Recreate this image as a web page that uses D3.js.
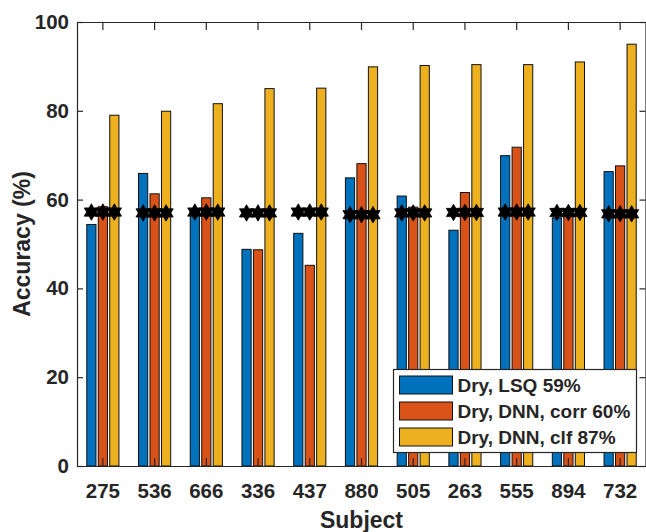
<!DOCTYPE html>
<html><head><meta charset="utf-8">
<script src="https://cdn.jsdelivr.net/npm/d3@7"></script>
<style>body{margin:0;background:#fff}svg{display:block}text{font-family:"Liberation Sans",Arial,Helvetica,sans-serif;font-weight:bold;fill:#262626}</style>
</head><body>
<svg id="c" width="646" height="532"></svg>
<script>
const subjects = ["275","536","666","336","437","880","505","263","555","894","732"];
const seriesNames = ["Dry, LSQ 59%","Dry, DNN, corr 60%","Dry, DNN, clf 87%"];
const lsq  = [54.4,65.9,57.4,48.8,52.4,64.9,60.8,53.1,69.9,55.9,66.3];
const corr = [58.4,61.3,60.4,48.7,45.2,68.1,58.3,61.6,71.8,57.8,67.6];
const clf  = [79.0,79.9,81.6,85.0,85.1,89.9,90.2,90.4,90.4,91.0,95.0];
const chance = [57.2,57.0,57.2,57.0,57.2,56.6,57.0,57.1,57.2,57.1,56.8];
const yTicks = [0,20,40,60,80,100];
const colors = ["#0072BD","#D95319","#EDB120"];

const svg = d3.select("#c");
const L = 77, R = 646, T = 22, B = 466;
const x = d3.scaleBand().domain(subjects).range([L, R]).padding(0);
const bw = x.bandwidth();
const xs = d3.scalePoint().domain([0,1,2]).range([-0.222*bw, 0.222*bw]);
const barW = 0.178*bw;
const y = d3.scaleLinear().domain([0,100]).range([B, T]);
const values = [lsq, corr, clf];

// bars
const g = svg.append("g");
values.forEach((vals, si) => {
  g.selectAll(null).data(vals).enter().append("rect")
    .attr("x", (d,i) => x(subjects[i]) + bw/2 + xs(si) - barW/2)
    .attr("y", d => y(d))
    .attr("width", barW)
    .attr("height", d => y(0) - y(d))
    .attr("fill", colors[si])
    .attr("stroke", "#111").attr("stroke-width", 1);
});

// axes
const axisColor = "#262626";
const yl = svg.append("g").attr("transform", `translate(${L},0)`)
  .call(d3.axisLeft(y).tickValues(yTicks).tickSizeInner(-6).tickSizeOuter(0).tickPadding(8));
const yr = svg.append("g").attr("transform", `translate(${R-0.5},0)`)
  .call(d3.axisRight(y).tickValues(yTicks).tickSizeInner(-6).tickSizeOuter(0).tickFormat(""));
const xb = svg.append("g").attr("transform", `translate(0,${B})`)
  .call(d3.axisBottom(x).tickSizeInner(-8).tickSizeOuter(0).tickPadding(17));
const xt = svg.append("g").attr("transform", `translate(0,${T})`)
  .call(d3.axisTop(x).tickSizeInner(-8).tickSizeOuter(0).tickFormat(""));
[yl,yr,xb,xt].forEach(a => {
  a.selectAll("path,line").attr("stroke", axisColor).attr("stroke-width", 1.2);
  a.selectAll("text").attr("fill", axisColor).style("font-size","20.5px").style("font-weight","bold")
   .style("font-family",'"Liberation Sans",Arial,sans-serif');
});
xb.selectAll(".tick text").attr("y", 17).attr("dy","0.71em");

// hexagram stars
const hexagram = {
  draw(ctx, size) {
    const r = Math.sqrt(size), ri = r/Math.sqrt(3);
    for (let k = 0; k < 12; k++) {
      const a = -Math.PI/2 + k*Math.PI/6;
      const rr = k%2===0 ? r : ri;
      const px = rr*Math.cos(a), py = rr*Math.sin(a);
      if (k===0) ctx.moveTo(px,py); else ctx.lineTo(px,py);
    }
    ctx.closePath();
  }
};
const star = d3.symbol().type(hexagram).size(68);
const sg = svg.append("g");
subjects.forEach((s,i) => {
  [0,1,2].forEach(si => {
    sg.append("path").attr("d", star())
      .attr("transform", `translate(${x(s)+bw/2+xs(si)},${y(chance[i])})`)
      .attr("fill","#000").attr("stroke","#000").attr("stroke-width",0.8);
  });
});

// axis titles
svg.append("text").attr("x", (L+R)/2).attr("y", 528).attr("text-anchor","middle")
  .style("font-size","23px").text("Subject");
svg.append("text").attr("transform", `translate(30,${(T+B)/2}) rotate(-90)`).attr("text-anchor","middle")
  .style("font-size","23px").text("Accuracy (%)");

// legend
const lg = svg.append("g").attr("transform","translate(393.5,369.5)");
lg.append("rect").attr("width",243).attr("height",83).attr("fill","#fff").attr("stroke",axisColor).attr("stroke-width",1.2);
seriesNames.forEach((n,i) => {
  const cy = 15.5 + i*26;
  lg.append("rect").attr("x",6).attr("y",cy-9).attr("width",53).attr("height",18)
    .attr("fill",colors[i]).attr("stroke","#111").attr("stroke-width",1);
  lg.append("text").attr("x",64).attr("y",cy+6.5).style("font-size","19px").attr("fill","#000").text(n);
});
</script>
</body></html>
